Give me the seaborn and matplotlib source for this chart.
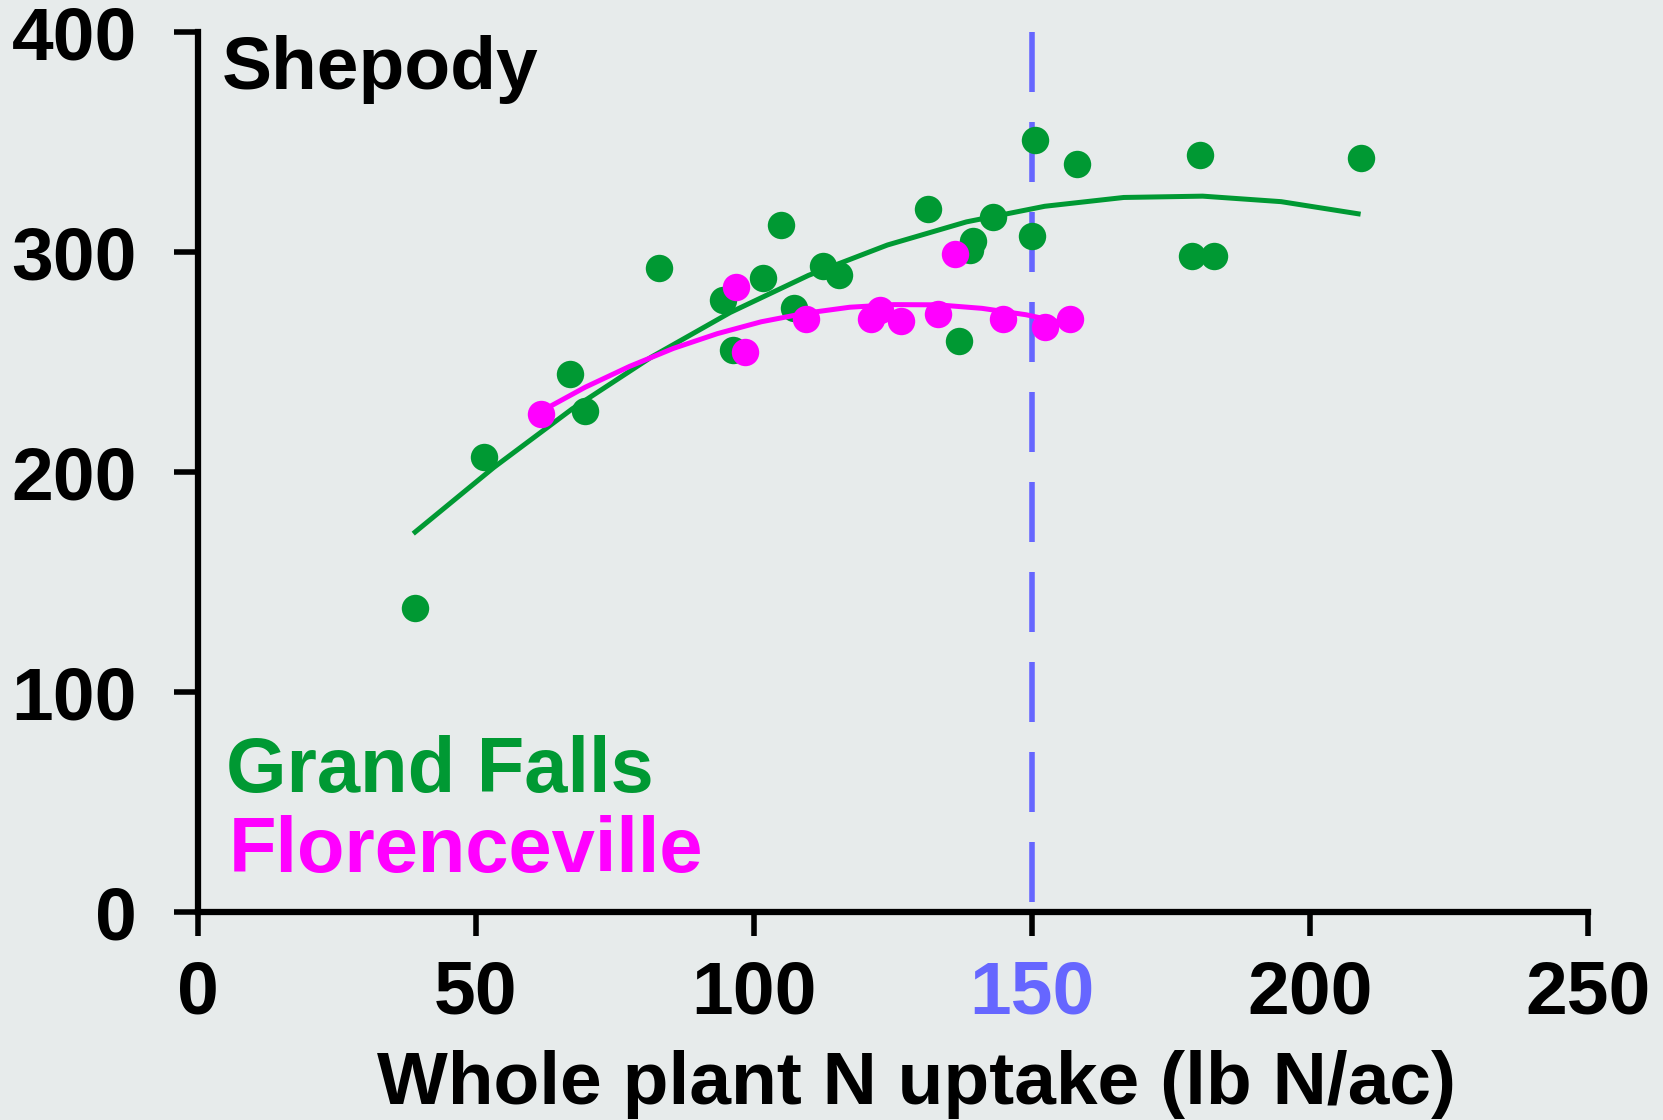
import numpy as np
import pandas as pd
import matplotlib
matplotlib.use("Agg")
import matplotlib.pyplot as plt
import seaborn as sns

# measured points (whole plant N uptake, yield)
gf_x = [39.0, 51.5, 66.9, 69.6, 82.9, 94.4, 96.3, 101.7, 104.8, 107.1, 112.4, 115.3,
        131.2, 136.9, 138.8, 139.4, 143.0, 150.0, 150.5, 158.1, 178.7, 180.3, 182.7, 209.2]
gf_y = [138.0, 206.7, 244.5, 227.9, 292.6, 278.2, 255.5, 288.3, 312.3, 274.4, 293.8, 289.4,
        319.4, 259.7, 300.9, 305.1, 316.1, 307.3, 350.9, 340.1, 298.3, 344.2, 298.3, 342.9]

fl_x = [61.7, 96.8, 98.4, 109.3, 121.0, 122.7, 126.4, 133.0, 136.2, 144.8, 152.4, 156.8]
fl_y = [226.4, 283.9, 254.4, 269.7, 269.5, 273.6, 268.6, 271.7, 299.1, 269.5, 265.9, 269.5]

# fitted curves
gf_fit_x = [38.7, 53.2, 67.3, 81.5, 95.7, 109.8, 124.0, 138.2, 152.3, 166.5, 180.7, 194.8, 209.1]
gf_fit_y = [172.0, 202.1, 228.7, 252.2, 272.5, 289.4, 303.2, 313.7, 320.8, 324.8, 325.4, 322.9, 317.2]

fl_fit_x = [61.7, 69.6, 77.6, 85.5, 93.4, 101.3, 109.3, 117.2, 125.1, 133.0, 141.0, 148.9, 156.8]
fl_fit_y = [227.6, 238.5, 248.0, 256.2, 262.9, 268.3, 272.2, 274.9, 276.1, 276.0, 274.4, 271.5, 267.2]

ref_x = [150, 150]
ref_y = [400, 0]

x_ticks = [0, 50, 100, 150, 200, 250]
y_ticks = [0, 100, 200, 300, 400]

GREEN = "#009933"
MAGENTA = "#ff00ff"
BLUE = "#6666ff"
BG = "#e7ebeb"

sns.set_style("ticks", {"axes.facecolor": BG, "figure.facecolor": BG})
plt.rcParams["font.family"] = ["Liberation Sans", "DejaVu Sans"]
plt.rcParams["font.weight"] = "bold"
plt.rcParams["text.color"] = "black"
plt.rcParams["axes.labelcolor"] = "black"
plt.rcParams["xtick.color"] = "black"
plt.rcParams["ytick.color"] = "black"

pts = pd.DataFrame({
    "x": gf_x + fl_x,
    "y": gf_y + fl_y,
    "site": ["Grand Falls"] * len(gf_x) + ["Florenceville"] * len(fl_x),
})
fits = pd.DataFrame({
    "x": gf_fit_x + fl_fit_x,
    "y": gf_fit_y + fl_fit_y,
    "site": ["Grand Falls"] * len(gf_fit_x) + ["Florenceville"] * len(fl_fit_x),
})

fig = plt.figure(figsize=(16.63, 11.2), dpi=100)
ax = fig.add_axes([0.1191, 0.1857, 0.8358, 0.7857])

# reference line at 150 lb N/ac, dashes start from the top
ax.plot(ref_x, ref_y, color=BLUE, lw=4, ls=(0, (10.8, 5.4)), zorder=1)

sns.lineplot(data=fits[fits.site == "Grand Falls"], x="x", y="y", color=GREEN,
             lw=3.6, sort=False, estimator=None, ax=ax, zorder=2,
             solid_capstyle="butt", legend=False)
sns.scatterplot(data=pts[pts.site == "Grand Falls"], x="x", y="y", color=GREEN,
                s=390, linewidth=0, ax=ax, zorder=3, legend=False)
sns.lineplot(data=fits[fits.site == "Florenceville"], x="x", y="y", color=MAGENTA,
             lw=3.6, sort=False, estimator=None, ax=ax, zorder=4,
             solid_capstyle="butt", legend=False)
sns.scatterplot(data=pts[pts.site == "Florenceville"], x="x", y="y", color=MAGENTA,
                s=390, linewidth=0, ax=ax, zorder=5, legend=False)

ax.set_xlim(0, 250)
ax.set_ylim(0, 400)
ax.set_xticks(x_ticks)
ax.set_yticks(y_ticks)
ax.set_xticklabels([str(t) for t in x_ticks], fontsize=54, fontweight="bold", color="black")
ax.set_yticklabels([str(t) for t in y_ticks], fontsize=54, fontweight="bold", color="black")
for lab in ax.get_xticklabels():
    if lab.get_text() == "150":
        lab.set_color(BLUE)

sns.despine(ax=ax)
for side in ["left", "bottom"]:
    ax.spines[side].set_linewidth(4.5)
    ax.spines[side].set_color("black")
ax.tick_params(axis="both", length=17, width=4, color="black", direction="out")
ax.tick_params(axis="x", pad=17)
ax.tick_params(axis="y", pad=27)

ax.set_xlabel("Whole plant N uptake (lb N/ac)", fontsize=54, fontweight="bold", color="black")
ax.xaxis.set_label_coords(0.517, -0.157)
ax.set_ylabel("")

ax.text(4.3, 374, "Shepody", fontsize=54, fontweight="bold", color="black",
        ha="left", va="baseline")
ax.text(5.1, 54.7, "Grand Falls", fontsize=56, fontweight="bold", color=GREEN,
        ha="left", va="baseline")
ax.text(5.5, 18.3, "Florenceville", fontsize=56, fontweight="bold", color=MAGENTA,
        ha="left", va="baseline")

fig.savefig("out.png", dpi=100, facecolor=BG)
